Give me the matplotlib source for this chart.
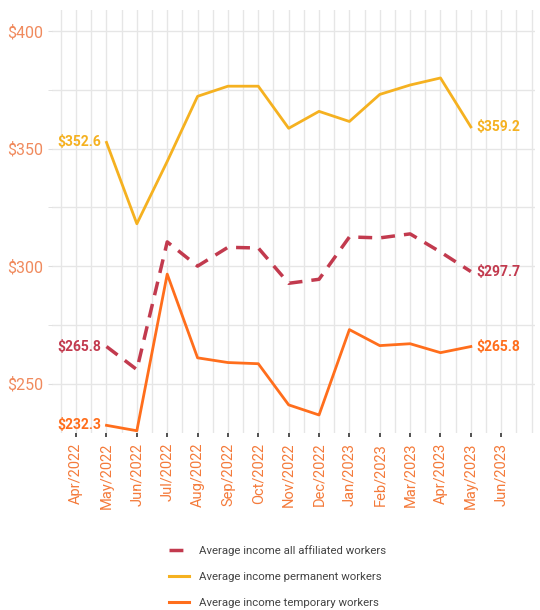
import numpy as np
import matplotlib.pyplot as plt
from matplotlib.ticker import MultipleLocator

plt.rcParams['font.family'] = ['Roboto', 'DejaVu Sans']

# ---Data---
months = ["Apr/2022", "May/2022", "Jun/2022", "Jul/2022", "Aug/2022", "Sep/2022",
          "Oct/2022", "Nov/2022", "Dec/2022", "Jan/2023", "Feb/2023", "Mar/2023",
          "Apr/2023", "May/2023", "Jun/2023"]
# series start at May/2022 and end at May/2023
affiliated = [265.8, 256.0, 310.3, 300.0, 308.0, 307.7, 292.7, 294.4, 312.4, 312.0, 313.7, 306.0, 297.7]
permanent = [352.6, 318.0, 344.5, 372.2, 376.5, 376.5, 358.6, 365.8, 361.5, 373.0, 377.0, 380.0, 359.2]
temporary = [232.3, 230.0, 296.6, 261.0, 259.0, 258.5, 241.0, 236.7, 273.0, 266.2, 267.0, 263.2, 265.8]

RED = "#c23a4e"
YELLOW = "#f5b120"
ORANGE = "#ff6e1c"

fig = plt.figure(figsize=(5.4, 6.1), dpi=100)
ax = fig.add_axes([0.096, 0.29, 0.894, 0.694])

x = np.arange(1, 1 + len(affiliated))
ax.plot(x, affiliated, color=RED, lw=2.5, ls=(0, (4, 2.6)), label="Average income all affiliated workers", zorder=3)
ax.plot(x, permanent, color=YELLOW, lw=2.0, label="Average income permanent workers", zorder=3)
ax.plot(x, temporary, color=ORANGE, lw=2.0, label="Average income temporary workers", zorder=3)

# end labels
for ys, c in [(affiliated, RED), (permanent, YELLOW), (temporary, ORANGE)]:
    ax.annotate(f"${ys[0]:.1f}", (x[0], ys[0]), xytext=(-4, 0), textcoords="offset points",
                ha="right", va="center", color=c, fontsize=10, fontweight="bold")
    ax.annotate(f"${ys[-1]:.1f}", (x[-1], ys[-1]), xytext=(4, 0), textcoords="offset points",
                ha="left", va="center", color=c, fontsize=10, fontweight="bold")

ax.set_xlim(-0.8, 15.1)
ax.set_ylim(229, 409)
ax.set_xticks(np.arange(len(months)))
ax.set_xticklabels(months, rotation=90, color="#f47a3a", fontsize=10.5)
ax.xaxis.set_minor_locator(MultipleLocator(0.5))
ax.yaxis.set_minor_locator(MultipleLocator(25))
ax.set_yticks([250, 300, 350, 400])
ax.set_yticklabels(["$250", "$300", "$350", "$400"], color="#f08a5d", fontsize=11.5)

ax.grid(True, which="both", color="#e6e6e6", lw=1.0)
ax.set_axisbelow(True)
ax.tick_params(axis="x", which="major", length=3, width=1.2, color="#333333", pad=4)
ax.tick_params(axis="x", which="minor", length=0)
ax.tick_params(axis="y", which="major", length=3, color="#dddddd", pad=3)
ax.tick_params(axis="y", which="minor", length=3, color="#dddddd")
for s in ax.spines.values():
    s.set_visible(False)

leg = fig.legend(loc="lower center", bbox_to_anchor=(0.514, -0.013), ncol=1, frameon=False,
                 fontsize=8.2, handlelength=1.8, labelspacing=1.4, handletextpad=0.9,
                 labelcolor="#444444")
for h in leg.get_lines()[1:]:
    h.set_linestyle("-")
    h.set_linewidth(2.2)

fig.savefig("out.png", dpi=100)
